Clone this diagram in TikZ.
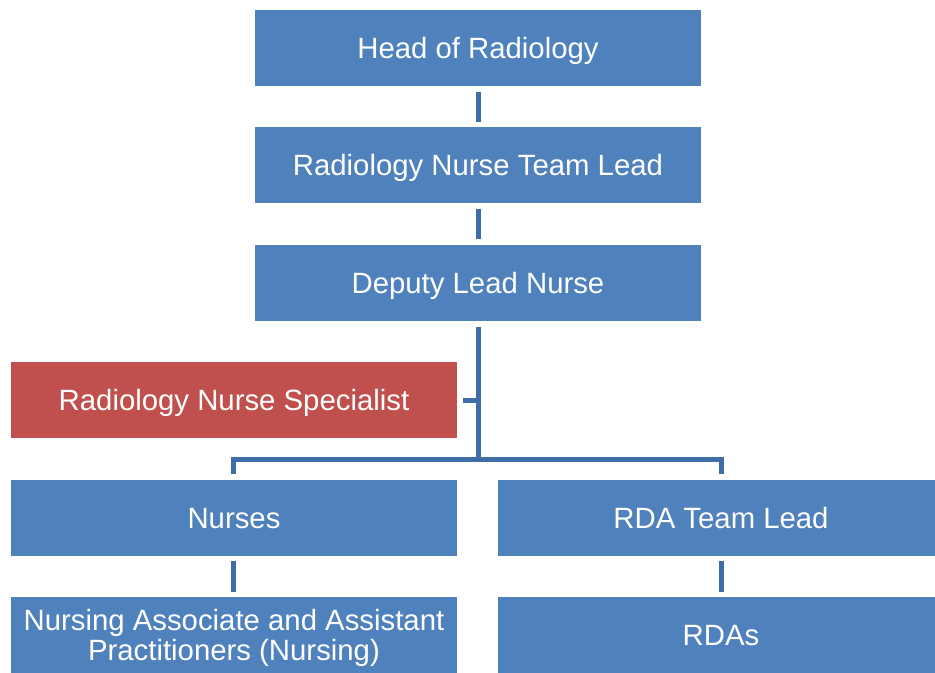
\documentclass[tikz,border=0pt]{standalone}
\usepackage{fontspec}
\setmainfont{Liberation Sans}
\usetikzlibrary{positioning}
\definecolor{boxblue}{HTML}{4F81BD}
\definecolor{boxred}{HTML}{C0504D}
\definecolor{lineblue}{HTML}{3F6DA8}
\begin{document}
\begin{tikzpicture}[node distance=88.1pt,
  role/.style={rectangle,fill=boxblue,text=white,minimum width=334.5pt,minimum height=57pt,
    inner sep=0pt,align=center,text height=15.8pt,text depth=0pt,
    font=\fontsize{22}{22.5}\selectfont},
  link/.style={draw=lineblue,line width=3.75pt,shorten <=4pt,shorten >=4pt}]
  \useasboundingbox (-358.5pt,36pt) rectangle (342.75pt,-468.75pt);
  \node[role] (head) {Head of Radiology};
  \node[role] (team) [below of=head] {Radiology Nurse Team Lead};
  \node[role] (deputy) [below of=team] {Deputy Lead Nurse};
  \node[role,fill=boxred] (spec) [below of=deputy,xshift=-183pt] {Radiology Nurse Specialist};
  \node[role] (nurses) [below of=spec] {Nurses};
  \node[role] (rdalead) [node distance=365.25pt,right of=nurses] {RDA Team Lead};
  \node[role,text height=42.5pt,text depth=] (assoc) [below of=nurses] {Nursing Associate and Assistant\\Practitioners (Nursing)};
  \node[role] (rdas) [below of=rdalead] {RDAs};
  \coordinate (bar) at ([yshift=15pt]nurses.north);
  \foreach \s/\t in {head/team, team/deputy, nurses/assoc, rdalead/rdas} {\path[link] (\s) -- (\t);}
  \path[link,shorten >=0pt] (deputy.south) -- (deputy.south |- bar);
  \path[link,shorten >=-1.875pt] (spec.east) -- (deputy.south |- spec.east);
  \path[link] (nurses.north) -- (bar) -| (rdalead.north);
\end{tikzpicture}
\end{document}
